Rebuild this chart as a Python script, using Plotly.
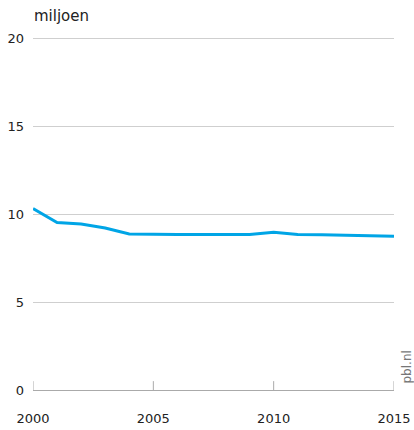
import plotly.graph_objects as go

jaren = list(range(2000, 2016))
miljoen = [10.32, 9.53, 9.45, 9.22, 8.88, 8.85, 8.85, 8.85, 8.85, 8.85,
           8.98, 8.85, 8.83, 8.81, 8.79, 8.75]
y_ticks = [0, 5, 10, 15, 20]
x_ticks = [2000, 2005, 2010, 2015]

fig = go.Figure(go.Scatter(
    x=jaren, y=miljoen, mode="lines",
    line=dict(color="#00a5e6", width=3),
    hoverinfo="x+y",
))

# plotly laat de tickjes op de randen weg, dus zelf tekenen
for jaar in x_ticks:
    fig.add_shape(type="line", xref="x", yref="y domain", x0=jaar, x1=jaar,
                  y0=0, y1=0.025, line=dict(color="#aaa", width=1))

fig.update_layout(
    width=414, height=430,
    margin=dict(l=33, r=20, t=35, b=40),
    paper_bgcolor="white", plot_bgcolor="white",
    font=dict(family="DejaVu Sans, sans-serif", size=13, color="#222"),
    showlegend=False,
    xaxis=dict(
        range=[2000, 2015], tickvals=x_ticks, showgrid=False, zeroline=False,
        showline=True, linecolor="#aaa", linewidth=1, ticks="",
        ticklabelstandoff=16, automargin=False, fixedrange=True,
    ),
    yaxis=dict(
        range=[0, 20.2], tickvals=y_ticks, showgrid=True, gridcolor="#cfcfcf",
        gridwidth=1, zeroline=False, showline=False, ticks="", ticklabelstandoff=8,
        automargin=False, fixedrange=True,
    ),
    annotations=[
        dict(text="miljoen", xref="paper", yref="paper", x=0, y=1,
             xanchor="left", yanchor="bottom", yshift=9, showarrow=False,
             borderpad=0, font=dict(size=15)),
        dict(text="pbl.nl", xref="paper", yref="paper", x=1, y=0,
             xanchor="center", yanchor="bottom", xshift=12, yshift=4,
             textangle=-90, showarrow=False,
             font=dict(size=12, color="#777")),
    ],
)

# body-marge weg zodat de figuur precies in het venster past
fig.write_html("out.html", config={"displayModeBar": False},
               post_script="document.body.style.margin='0';document.body.style.overflow='hidden';")
